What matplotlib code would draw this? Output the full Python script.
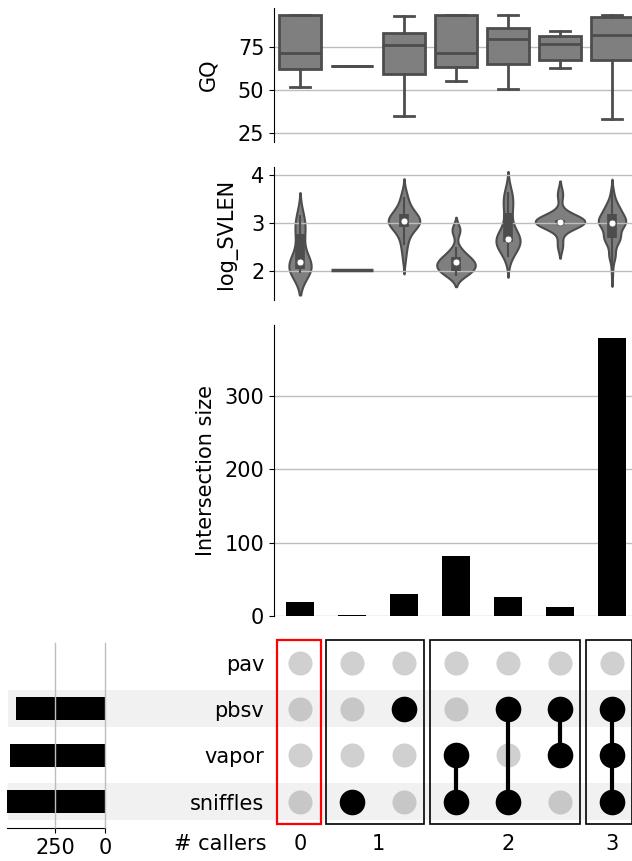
import matplotlib
matplotlib.use('Agg')
import matplotlib.pyplot as plt
import numpy as np
from matplotlib import mlab
from matplotlib.patches import Rectangle
from matplotlib.transforms import blended_transform_factory


FILE = 'out.png'

# callers, listed from the bottom row of the matrix to the top row
CALLERS = ['sniffles', 'vapor', 'pbsv', 'pav']

# one row per intersection column, one flag per caller (same order as CALLERS)
MEMBERSHIP = [
    [0, 0, 0, 0],
    [1, 0, 0, 0],
    [0, 0, 1, 0],
    [1, 1, 0, 0],
    [1, 0, 1, 0],
    [0, 1, 1, 0],
    [1, 1, 1, 0],
]
INTERSECTION_SIZES = [19, 2, 30, 82, 26, 12, 379]
N_CALLERS = [0, 1, 1, 2, 2, 2, 3]

# GQ box summaries per intersection
GQ_WHISLO = [51.7, 64.0, 34.9, 55.0, 50.8, 62.8, 32.9]
GQ_Q1 = [62.4, 64.0, 59.5, 63.4, 64.9, 67.2, 67.2]
GQ_MED = [71.7, 64.0, 76.0, 71.7, 79.8, 76.9, 82.0]
GQ_Q3 = [93.4, 64.0, 83.1, 93.8, 86.0, 81.4, 92.4]
GQ_WHISHI = [93.8, 64.0, 92.8, 93.8, 93.4, 84.5, 93.8]

# log_SVLEN observations per intersection (value, repeat count)
SVLEN_0 = [1.97, 2.0, 2.1, 2.2, 2.3, 2.5, 2.7, 2.85, 3.0, 3.1, 3.17]
SVLEN_0_N = [1, 4, 3, 3, 1, 1, 1, 2, 1, 1, 1]
SVLEN_1 = [2.02]
SVLEN_1_N = [2]
SVLEN_2 = [2.25, 2.45, 2.55, 2.65, 2.75, 2.8, 2.85, 2.9, 2.95, 3.0, 3.02, 3.03,
           3.04, 3.05, 3.07, 3.1, 3.12, 3.15, 3.2, 3.25, 3.3, 3.35, 3.45, 3.55, 3.62]
SVLEN_2_N = [1, 1, 1, 1, 1, 1, 1, 1, 2, 3, 1, 1, 1, 1, 1, 2, 1, 1, 1, 2, 1, 1, 1, 1, 1]
SVLEN_3 = [1.9, 2.0, 2.1, 2.2, 2.3, 2.4, 2.5, 2.8, 2.9]
SVLEN_3_N = [8, 14, 16, 16, 10, 6, 3, 4, 5]
SVLEN_4 = [2.3, 2.4, 2.45, 2.5, 2.55, 2.58, 2.6, 2.62, 2.64, 2.65, 2.66, 2.67, 2.68,
           2.7, 2.75, 2.8, 2.95, 3.1, 3.25, 3.3, 3.4, 3.5, 3.55, 3.6, 3.65]
SVLEN_4_N = [1, 1, 1, 1, 1, 1, 1, 1, 1, 1, 1, 2, 1, 1, 1, 1, 1, 1, 1, 1, 1, 1, 1, 1, 1]
SVLEN_5 = [2.55, 2.95, 3.0, 3.02, 3.03, 3.05, 3.08, 3.15, 3.6]
SVLEN_5_N = [1, 1, 2, 1, 2, 2, 1, 1, 1]
SVLEN_6 = [1.9, 2.1, 2.3, 2.4, 2.5, 2.6, 2.7, 2.8, 2.9, 3.0, 3.1, 3.2, 3.3, 3.4, 3.5, 3.6, 3.7]
SVLEN_6_N = [4, 6, 20, 8, 10, 22, 40, 22, 30, 60, 50, 35, 30, 20, 10, 6, 6]

SVLEN_VALUES = [SVLEN_0, SVLEN_1, SVLEN_2, SVLEN_3, SVLEN_4, SVLEN_5, SVLEN_6]
SVLEN_COUNTS = [SVLEN_0_N, SVLEN_1_N, SVLEN_2_N, SVLEN_3_N, SVLEN_4_N, SVLEN_5_N, SVLEN_6_N]

FILL = '#7f7f7f'
EDGE = '#4d4d4d'
GRID = '#bdbdbd'
FONT = 15

W, H = 632, 861


def px_axes(fig, left, top, right, bottom):
    return fig.add_axes([left / W, 1 - bottom / H, (right - left) / W, (bottom - top) / H])


def style_value_axes(ax):
    for side in ['top', 'right', 'bottom']:
        ax.spines[side].set_visible(False)
    ax.set_xticks([])
    ax.set_xlim(-0.5, len(INTERSECTION_SIZES) - 0.5)
    ax.yaxis.grid(True, color=GRID, lw=1)
    ax.tick_params(axis='y', labelsize=FONT)


def draw_violins(ax, width=0.95, line_width=0.8):
    samples = [np.repeat(v, n) for v, n in zip(SVLEN_VALUES, SVLEN_COUNTS)]
    curves = []
    for s in samples:
        if np.ptp(s) == 0:
            curves.append(None)
            continue
        kde = mlab.GaussianKDE(s, 'scott')
        bw = kde.covariance_factor() * s.std(ddof=1)
        coords = np.linspace(s.min() - 2 * bw, s.max() + 2 * bw, 300)
        curves.append((coords, kde.evaluate(coords)))
    peak = max(c[1].max() for c in curves if c is not None)

    for pos, (s, curve) in enumerate(zip(samples, curves)):
        if curve is None:
            ax.hlines(s[0], pos - line_width / 2, pos + line_width / 2, color=EDGE, lw=2.5)
            continue
        coords, dens = curve
        half = dens / peak * width / 2
        ax.fill_betweenx(coords, pos - half, pos + half, facecolor=FILL,
                         edgecolor=EDGE, lw=1.5, zorder=1)
        q1, med, q3 = np.percentile(s, [25, 50, 75])
        iqr = q3 - q1
        lo = s[s >= q1 - 1.5 * iqr].min()
        hi = s[s <= q3 + 1.5 * iqr].max()
        ax.plot([pos, pos], [lo, hi], color=EDGE, lw=1.5, zorder=3, solid_capstyle='butt')
        ax.plot([pos, pos], [q1, q3], color=EDGE, lw=7, zorder=3, solid_capstyle='butt')
        ax.plot(pos, med, 'o', ms=5, mfc='white', mec=EDGE, mew=0.5, zorder=4)


def main():
    fig = plt.figure(figsize=(W / 100, H / 100), dpi=100)
    n_cols = len(INTERSECTION_SIZES)
    cols = np.arange(n_cols)
    rows = np.arange(len(CALLERS))
    membership = np.array(MEMBERSHIP)
    set_sizes = [sum(sz for sz, m in zip(INTERSECTION_SIZES, membership[:, i]) if m)
                 for i in range(len(CALLERS))]

    # matrix first so the set-size axes draws above the row shading
    ax_m = px_axes(fig, 274, 639.5, 638, 824.7)
    ax_gq = px_axes(fig, 274, 8, 638, 142)
    ax_v = px_axes(fig, 274, 167, 638, 300)
    ax_i = px_axes(fig, 274, 325, 638, 616)
    ax_s = px_axes(fig, 7, 643, 105, 828)

    # GQ boxes
    stats = [dict(whislo=a, q1=b, med=c, q3=d, whishi=e)
             for a, b, c, d, e in zip(GQ_WHISLO, GQ_Q1, GQ_MED, GQ_Q3, GQ_WHISHI)]
    line = dict(color=EDGE, lw=2)
    ax_gq.bxp(stats, positions=cols, widths=0.8, showfliers=False, patch_artist=True,
              boxprops=dict(facecolor=FILL, edgecolor=EDGE, lw=2),
              whiskerprops=line, capprops=line, medianprops=line)
    style_value_axes(ax_gq)
    ax_gq.set_ylim(19.8, 97.7)
    ax_gq.set_yticks([25, 50, 75])
    ax_gq.set_ylabel('GQ', fontsize=FONT, labelpad=14)

    # log_SVLEN violins
    draw_violins(ax_v)
    style_value_axes(ax_v)
    ax_v.set_ylim(1.40, 4.17)
    ax_v.set_yticks([2, 3, 4])
    ax_v.set_ylabel('log_SVLEN', fontsize=FONT, labelpad=10)

    # intersection size bars
    ax_i.bar(cols, INTERSECTION_SIZES, width=0.54, color='black')
    style_value_axes(ax_i)
    ax_i.set_axisbelow(True)
    ax_i.set_ylim(0, 397)
    ax_i.set_yticks([0, 100, 200, 300])
    ax_i.set_ylabel('Intersection size', fontsize=FONT, labelpad=6)

    # row shading spanning the set-size bars, labels and matrix
    band_tf = blended_transform_factory(fig.transFigure, ax_m.transData)
    for r in rows[::2]:
        fig.add_artist(Rectangle((8 / W, r - 0.4), 1, 0.8, transform=band_tf,
                                 facecolor='#f1f1f1', edgecolor='none', zorder=-1))

    # matrix dots
    for c in cols:
        member = membership[c].astype(bool)
        ax_m.scatter(np.full((~member).sum(), c), rows[~member], s=300,
                     color='#808080', alpha=0.37, lw=0, zorder=2)
        if member.any():
            ax_m.scatter(np.full(member.sum(), c), rows[member], s=340,
                         color='black', lw=0, zorder=3)
            ax_m.plot([c, c], [rows[member].min(), rows[member].max()],
                      color='black', lw=3, zorder=2.5)

    # boxes around groups of equal caller count
    groups = sorted(set(N_CALLERS))
    centers = []
    for g in groups:
        members = [c for c in cols if N_CALLERS[c] == g]
        first, last = min(members), max(members)
        centers.append((first + last) / 2)
        ax_m.add_patch(Rectangle((first - 0.45 if g == 0 else first - 0.5, -0.48),
                                 last - first + (0.85 if g == 0 else 0.88), 3.96,
                                 fill=False, edgecolor='red' if g == 0 else 'black',
                                 lw=1.6 if g == 0 else 1.2, clip_on=False, zorder=4))

    ax_m.set_xlim(-0.5, n_cols - 0.5)
    ax_m.set_ylim(-0.5, len(CALLERS) - 0.5)
    ax_m.set_xticks(centers)
    ax_m.set_xticklabels([str(g) for g in groups])
    ax_m.set_yticks(rows)
    ax_m.set_yticklabels(CALLERS)
    ax_m.tick_params(length=0, labelsize=FONT)
    ax_m.tick_params(axis='x', pad=7)
    ax_m.tick_params(axis='y', pad=7)
    for sp in ax_m.spines.values():
        sp.set_visible(False)
    ax_m.patch.set_visible(False)
    ax_m.annotate('# callers', xy=(0, 0), xycoords='axes fraction', xytext=(-5.5, -7),
                  textcoords='offset points', ha='right', va='top', fontsize=FONT)

    # set sizes
    ax_s.barh(rows, set_sizes, height=0.5, color='black', zorder=2)
    ax_s.set_xlim(490, 0)
    ax_s.set_ylim(-0.57, 3.42)
    ax_s.set_xticks([250, 0])
    ax_s.set_yticks([])
    ax_s.xaxis.grid(True, color=GRID, lw=1, zorder=3)
    ax_s.set_axisbelow(False)
    for gl in ax_s.get_xgridlines():
        gl.set_clip_on(False)
    for side in ['top', 'right', 'left']:
        ax_s.spines[side].set_visible(False)
    ax_s.tick_params(axis='x', labelsize=FONT)
    ax_s.patch.set_visible(False)

    fig.savefig(FILE, dpi=100)


if __name__ == '__main__':
    main()
